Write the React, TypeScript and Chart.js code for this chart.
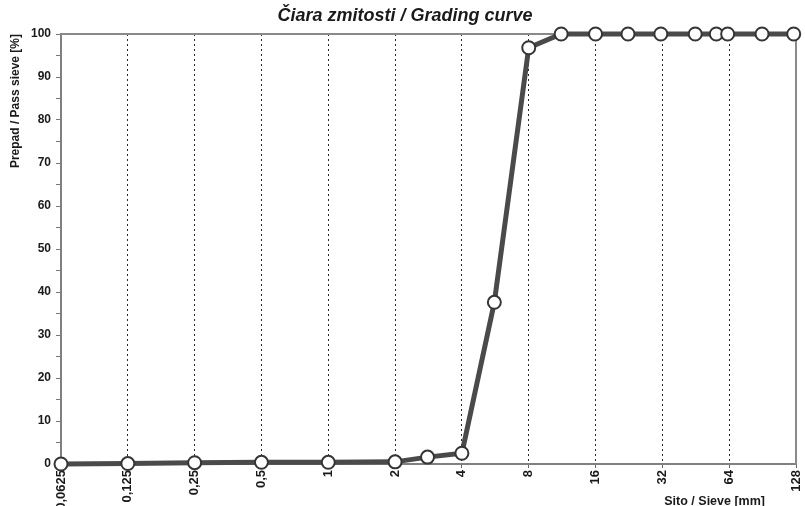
import React, { useEffect, useRef } from "react";
import { Chart, registerables } from "chart.js";

Chart.register(...registerables);

const sieveSizes = [0.0625, 0.125, 0.25, 0.5, 1, 2, 2.8, 4, 5.6, 8, 11.2, 16, 22.4, 31.5, 45, 56, 63, 90, 125];
const passing = [0, 0.1, 0.3, 0.4, 0.4, 0.5, 1.6, 2.5, 37.6, 96.8, 100, 100, 100, 100, 100, 100, 100, 100, 100];
const xTickValues = [0.0625, 0.125, 0.25, 0.5, 1, 2, 4, 8, 16, 32, 64, 128];
const xTickLabels = ["0,0625", "0,125", "0,25", "0,5", "1", "2", "4", "8", "16", "32", "64", "128"];
const chartTitle = "Čiara zmitosti / Grading curve";
const yTitle = "Prepad / Pass sieve [%]";
const xTitle = "Sito / Sieve [mm]";

const FONT = "'Liberation Sans', Arial, sans-serif";

const framePlugin = {
  id: "frame",
  beforeDatasetsDraw(chart: any) {
    const { ctx, chartArea } = chart;
    ctx.save();
    ctx.strokeStyle = "#8a8a8a";
    ctx.lineWidth = 2;
    ctx.beginPath();
    ctx.moveTo(chartArea.left, chartArea.top);
    ctx.lineTo(chartArea.right, chartArea.top);
    ctx.lineTo(chartArea.right, chartArea.bottom);
    ctx.stroke();
    ctx.restore();
  },
  afterDraw(chart: any) {
    const { ctx, chartArea, height } = chart;
    ctx.save();
    ctx.fillStyle = "#1a1a1a";
    ctx.textBaseline = "alphabetic";
    ctx.font = `italic bold 18px ${FONT}`;
    ctx.textAlign = "center";
    ctx.fillText(chartTitle, chartArea.left + 344, 21);
    ctx.font = `bold 12.5px ${FONT}`;
    ctx.textAlign = "right";
    ctx.fillText(xTitle, chartArea.right - 31, height - 1);
    ctx.restore();
  },
};

export default function App() {
  const ref = useRef<HTMLCanvasElement | null>(null);
  useEffect(() => {
    document.body.style.margin = "0";
    if (!ref.current) return;
    const chart = new Chart(ref.current, {
      type: "line",
      data: {
        datasets: [
          {
            data: sieveSizes.map((s, i) => ({ x: s, y: passing[i] })),
            borderColor: "#4a4a4a",
            borderWidth: 5,
            pointRadius: 6.5,
            pointBackgroundColor: "#ffffff",
            pointBorderColor: "#353535",
            pointBorderWidth: 2,
            tension: 0,
            clip: false as any,
          },
        ],
      },
      options: {
        animation: false,
        responsive: true,
        maintainAspectRatio: false,
        layout: { padding: { left: 0, right: 9, top: 34, bottom: 0 } },
        plugins: {
          legend: { display: false },
          tooltip: { enabled: false },
          title: { display: false },
        },
        scales: {
          x: {
            type: "logarithmic",
            min: 0.0625,
            max: 128,
            afterBuildTicks: (scale: any) => {
              scale.ticks = xTickValues.map((v) => ({ value: v }));
            },
            afterFit: (scale: any) => {
              scale.height = 42;
              scale.paddingRight = 0;
              scale.paddingLeft = 0;
            },
            ticks: {
              autoSkip: false,
              minRotation: 90,
              maxRotation: 90,
              padding: 2,
              color: "#1a1a1a",
              font: { family: FONT, size: 13, weight: "bold" },
              callback: (_v: any, i: number) => xTickLabels[i],
            },
            grid: {
              drawOnChartArea: true,
              color: (c: any) =>
                c.index === 0 || c.index === xTickValues.length - 1 ? "rgba(0,0,0,0)" : "#2a2a2a",
              lineWidth: 1,
              tickColor: "#666",
              tickLength: 4,
              tickBorderDash: [],
            },
            border: { display: true, color: "#808080", width: 2, dash: [2, 3] },
          },
          y: {
            type: "linear",
            min: 0,
            max: 100,
            afterFit: (scale: any) => {
              scale.width = 61;
              scale.paddingTop = 0;
            },
            ticks: {
              stepSize: 5,
              padding: 5,
              color: "#1a1a1a",
              font: { family: FONT, size: 12, weight: "bold" },
              callback: (v: any) => (Number(v) % 10 === 0 ? String(v) : ""),
            },
            grid: {
              drawOnChartArea: false,
              tickColor: "#777",
              tickLength: 5,
            },
            border: { display: true, color: "#808080", width: 2 },
            title: {
              display: true,
              text: yTitle,
              align: "end",
              color: "#1a1a1a",
              font: { family: FONT, size: 12, weight: "bold" },
              padding: { top: 8, bottom: 0 },
            },
          },
        },
      },
      plugins: [framePlugin],
    } as any);
    return () => chart.destroy();
  }, []);
  return (
    <div style={{ position: "absolute", left: 0, top: 0, width: 805, height: 506, background: "#fff" }}>
      <canvas ref={ref} />
    </div>
  );
}
